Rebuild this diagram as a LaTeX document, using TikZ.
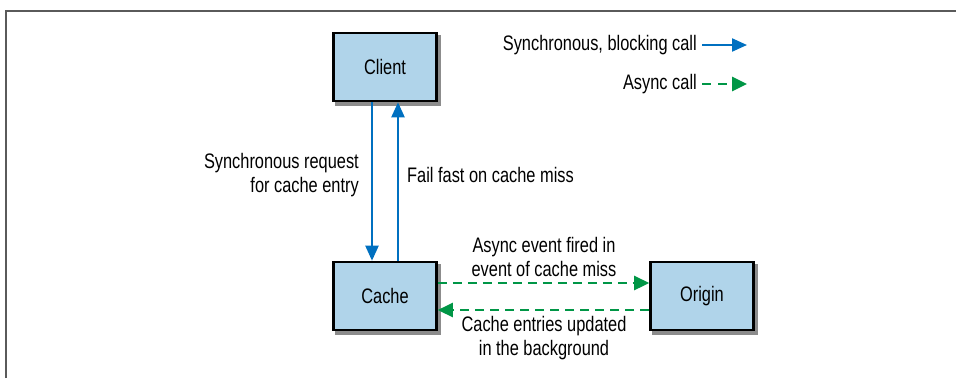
\documentclass[tikz,border=0pt]{standalone}
\usepackage{fontspec}
\setmainfont{Liberation Sans}[FakeStretch=0.78]
\usetikzlibrary{arrows.meta,calc}
\definecolor{boxfill}{RGB}{176,212,234}
\definecolor{syncblue}{RGB}{0,112,192}
\definecolor{asyncgreen}{RGB}{0,150,70}
\definecolor{framegray}{RGB}{90,90,90}
\tikzset{
  sysbox/.style={draw=black, line width=2.6pt, fill=boxfill, minimum width=103pt, minimum height=68pt, inner sep=0pt, font=\fontsize{21}{24}\selectfont,
    preaction={fill=black!45, draw=black!45, line width=2.6pt, transform canvas={shift={(3pt,-3.5pt)}}}},
  lbl/.style={font=\fontsize{21}{24}\selectfont, inner sep=0pt, align=center},
  syncarrow/.style={draw=syncblue, line width=2.2pt, -{Triangle[length=15pt,width=13pt]}},
  asyncarrow/.style={draw=asyncgreen, line width=2.6pt, dash pattern=on 9pt off 6pt, -{Triangle[length=15pt,width=14pt]}},
}
\begin{document}
\begin{tikzpicture}[x=1pt,y=-1pt]
\useasboundingbox (0,0) rectangle (956,378);
\draw[framegray, line width=1.4pt] (6,378) -- (6,11) -- (956,11);

\node[sysbox] (client) at (385,67) {Client};
\node[sysbox] (cache) at (385,296) {Cache};
\node[sysbox] (origin) at (702,296) {Origin};

\draw[syncarrow] ($(client.south)+(-13,0)$) -- ($(cache.north)+(-13,0)$);
\draw[syncarrow] ($(cache.north)+(13,0)$) -- ($(client.south)+(13,0)$);

\draw[asyncarrow] ($(cache.east)+(0,-13)$) -- ($(origin.west)+(0,-13)$);
\draw[asyncarrow] ($(origin.west)+(0,14)$) -- ($(cache.east)+(0,14)$);

\node[lbl, align=right, anchor=east] (reqlbl) at (359,175) {Synchronous request\\for cache entry};
\node[lbl, anchor=west] (faillbl) at (407,175) {Fail fast on cache miss};
\node[lbl] (firedlbl) at (544,257) {Async event fired in\\event of cache miss};
\node[lbl] (updlbl) at (544,338) {Cache entries updated\\in the background};

\node[lbl, anchor=east] (synclegend) at (697,45) {Synchronous, blocking call};
\coordinate (syncend) at (747,45);
\draw[syncarrow] (synclegend.east) ++(5,0) -- (syncend);
\node[lbl, anchor=east] (asynclegend) at (697,84) {Async call};
\coordinate (asyncend) at (747,84);
\draw[asyncarrow, dash pattern=on 9pt off 7pt] (asynclegend.east) ++(5,0) -- (asyncend);
\end{tikzpicture}
\end{document}
